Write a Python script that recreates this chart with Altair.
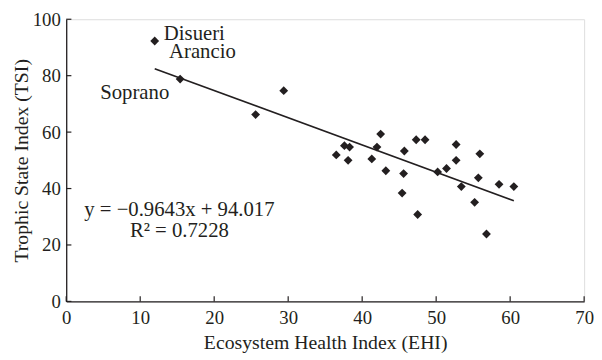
import altair as alt
import pandas as pd

# Data
ehi = [11.96, 15.4, 25.6, 29.4, 36.5, 37.6, 38.3, 38.1, 42.5, 42.0, 41.3, 43.2,
       45.7, 45.6, 45.4, 47.3, 48.5, 47.5, 50.2, 51.4, 52.7, 52.7, 53.4, 55.9,
       55.7, 55.2, 56.8, 58.5, 60.5]
tsi = [92.3, 78.8, 66.2, 74.7, 51.9, 55.2, 54.7, 50.0, 59.3, 54.7, 50.5, 46.3,
       53.3, 45.3, 38.4, 57.3, 57.3, 30.8, 45.9, 47.1, 55.6, 50.0, 40.7, 52.3,
       43.8, 35.1, 23.9, 41.5, 40.7]

slope = -0.9643
intercept = 94.017
fit_x = [min(ehi), max(ehi)]

label_text = ["Disueri", "Arancio", "Soprano"]
label_x = [13.2, 13.9, 4.6]
label_y = [94.8, 88.5, 73.8]

eq_text = ["y = \u22120.9643x + 94.017", "R\u00b2 = 0.7228"]
eq_x = [15.3, 15.3]
eq_y = [32.5, 25.0]

x_ticks = [0, 10, 20, 30, 40, 50, 60, 70]
y_ticks = [0, 20, 40, 60, 80, 100]

FONT = "Liberation Serif"
INK = "#231f20"

pts = pd.DataFrame({"x": ehi, "y": tsi})
fit = pd.DataFrame({"x": fit_x, "y": [slope * v + intercept for v in fit_x]})
labels = pd.DataFrame({"t": label_text, "x": label_x, "y": label_y})
eqs = pd.DataFrame({"t": eq_text, "x": eq_x, "y": eq_y})
xt = pd.DataFrame({"v": x_ticks})
yt = pd.DataFrame({"v": y_ticks})

xscale = alt.Scale(domain=[0, 70], nice=False)
yscale = alt.Scale(domain=[0, 100], nice=False)

xaxis = alt.Axis(values=x_ticks, title="Ecosystem Health Index (EHI)", grid=False,
                 ticks=False, labelPadding=7, labelFontSize=19, titleFontSize=20,
                 labelFont=FONT, titleFont=FONT, labelColor=INK, titleColor=INK,
                 titleFontWeight="normal", domainColor=INK, domainWidth=1.3,
                 labelFlush=False, labelOverlap=False,
                 titleX=262.5, titleY=42, titleBaseline="middle", titleAlign="center")
yaxis = alt.Axis(values=y_ticks, title="Trophic State Index (TSI)", grid=False,
                 ticks=False, labelPadding=6, labelFontSize=19, titleFontSize=20,
                 labelFont=FONT, titleFont=FONT, labelColor=INK, titleColor=INK,
                 titleFontWeight="normal", domainColor=INK, domainWidth=1.3,
                 labelFlush=False, labelOverlap=False,
                 titleX=-45, titleY=143, titleBaseline="middle", titleAlign="center",
                 titleAngle=270)

points = alt.Chart(pts).mark_point(shape="diamond", filled=True, color=INK,
                                   size=80, opacity=1).encode(
    x=alt.X("x:Q", scale=xscale, axis=xaxis),
    y=alt.Y("y:Q", scale=yscale, axis=yaxis),
)

# inward tick marks at the tick values
xtick_marks = alt.Chart(xt).mark_rule(color=INK, strokeWidth=1.2).encode(
    x=alt.X("v:Q", scale=xscale), y=alt.datum(0), y2=alt.datum(1.8))
ytick_marks = alt.Chart(yt).mark_rule(color=INK, strokeWidth=1.2).encode(
    y=alt.Y("v:Q", scale=yscale), x=alt.datum(0), x2=alt.datum(0.7))

line = alt.Chart(fit).mark_line(color=INK, strokeWidth=1.6).encode(
    x=alt.X("x:Q", scale=xscale), y=alt.Y("y:Q", scale=yscale))

lab = alt.Chart(labels).mark_text(align="left", baseline="middle", font=FONT,
                                  fontSize=21, color=INK).encode(
    x=alt.X("x:Q", scale=xscale), y=alt.Y("y:Q", scale=yscale), text="t:N")

eq = alt.Chart(eqs).mark_text(align="center", baseline="middle", font=FONT,
                              fontSize=21, color=INK).encode(
    x=alt.X("x:Q", scale=xscale), y=alt.Y("y:Q", scale=yscale), text="t:N")

chart = alt.layer(points, xtick_marks, ytick_marks, line, lab, eq).properties(
    width=525, height=286,
    autosize=alt.AutoSizeParams(type="none"),
    padding={"left": 59, "top": 9, "right": 10, "bottom": 57},
).configure_view(stroke=INK, strokeWidth=1.3).configure(background="white")

chart.save("out.html", embed_options={"renderer": "svg", "actions": False})
